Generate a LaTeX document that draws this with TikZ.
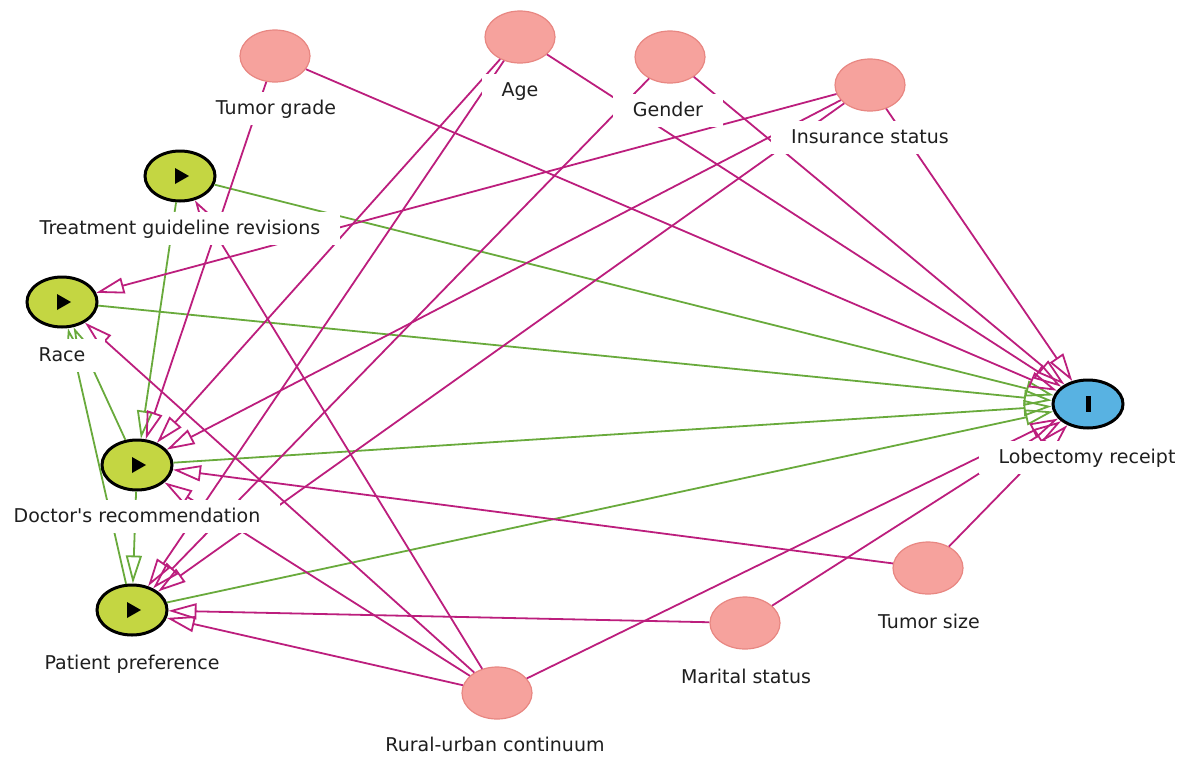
\documentclass[tikz,border=0pt]{standalone}
\usepackage{fontspec}
\setmainfont{DejaVu Sans}
\usetikzlibrary{shapes.geometric,arrows.meta}
\definecolor{biasline}{RGB}{188,30,125}
\definecolor{causalline}{RGB}{105,170,60}
\definecolor{ancfill}{RGB}{246,162,157}
\definecolor{ancdraw}{RGB}{232,135,130}
\definecolor{expfill}{RGB}{196,214,66}
\definecolor{outfill}{RGB}{88,178,226}
\begin{document}
\begin{tikzpicture}[x=1pt,y=-1pt,
  shape base/.style={ellipse, inner sep=0pt, minimum width=70pt, minimum height=52pt},
  ancestor/.style={shape base, fill=ancfill, draw=ancdraw, line width=1.2pt},
  exposure/.style={shape base, minimum height=50pt, fill=expfill, draw=black, line width=3pt, outer sep=1.5pt,
    path picture={\fill[black] ([shift={(-5,-8)}]path picture bounding box.center) -- ++(14,8) -- ++(-14,8) -- cycle;}},
  outcome/.style={shape base, minimum height=48pt, fill=outfill, draw=black, line width=3pt, outer sep=1.5pt,
    path picture={\fill[black] ([shift={(-2.5,-8)}]path picture bounding box.center) rectangle ++(5,16);}},
  lbl/.style={fill=white, inner xsep=20pt, inner ysep=0pt, text height=23pt, text depth=10pt,
    font=\fontsize{19}{23}\selectfont, text=black!88},
  causal/.style={draw=causalline, line width=1.8pt, -{Triangle[open, length=28pt, width=16pt]}},
  biasing/.style={draw=biasline, line width=1.8pt, -{Triangle[open, length=28pt, width=16pt]}}
]
\useasboundingbox (0,0) rectangle (1195,761);

% variables
\node[ancestor] (TG)   at (275,56)  {};
\node[ancestor] (Age)  at (520,37)  {};
\node[ancestor] (Gen)  at (670,57)  {};
\node[ancestor] (Ins)  at (870,85)  {};
\node[exposure] (TGR)  at (180,176) {};
\node[exposure] (Race) at (62,302)  {};
\node[exposure] (DR)   at (137,465) {};
\node[exposure] (PP)   at (132,610) {};
\node[outcome]  (Lob)  at (1088,404) {};
\node[ancestor] (TS)   at (928,568) {};
\node[ancestor] (MS)   at (745,623) {};
\node[ancestor] (RU)   at (497,693) {};

% causal paths
\draw[causal] (TGR) -- (Lob);
\draw[causal] (TGR) -- (DR);
\draw[causal] (Race) -- (Lob);
\draw[causal] (DR) -- (Race);
\draw[causal] (PP) -- (Race);
\draw[causal] (DR) -- (Lob);
\draw[causal] (DR) -- (PP);
\draw[causal] (PP) -- (Lob);

% biasing paths
\draw[biasing] (TG) -- (DR);
\draw[biasing] (TG) -- (Lob);
\draw[biasing] (Age) -- (DR);
\draw[biasing] (Age) -- (PP);
\draw[biasing] (Age) -- (Lob);
\draw[biasing] (Gen) -- (PP);
\draw[biasing] (Gen) -- (Lob);
\draw[biasing] (Ins) -- (Race);
\draw[biasing] (Ins) -- (DR);
\draw[biasing] (Ins) -- (PP);
\draw[biasing] (Ins) -- (Lob);
\draw[biasing] (RU) -- (Race);
\draw[biasing] (RU) -- (TGR);
\draw[biasing] (RU) -- (DR);
\draw[biasing] (RU) -- (PP);
\draw[biasing] (RU) -- (Lob);
\draw[biasing] (MS) -- (PP);
\draw[biasing] (MS) -- (Lob);
\draw[biasing] (TS) -- (DR);
\draw[biasing] (TS) -- (Lob);

% labels
\node[lbl] (TGt)   at (276,108) {Tumor grade};
\node[lbl] (Aget)  at (520,90)  {Age};
\node[lbl] (Gent)  at (668,110) {Gender};
\node[lbl] (Inst)  at (870,137) {Insurance status};
\node[lbl] (TGRt)  at (180,228) {Treatment guideline revisions};
\node[lbl] (Racet) at (62,355)  {Race};
\node[lbl] (DRt)   at (137,516) {Doctor\textquotesingle s recommendation};
\node[lbl] (PPt)   at (132,663) {Patient preference};
\node[lbl] (Lobt)  at (1087,457) {Lobectomy receipt};
\node[lbl] (TSt)   at (929,622) {Tumor size};
\node[lbl] (MSt)   at (746,677) {Marital status};
\node[lbl] (RUt)   at (495,745) {Rural-urban continuum};
\end{tikzpicture}
\end{document}
